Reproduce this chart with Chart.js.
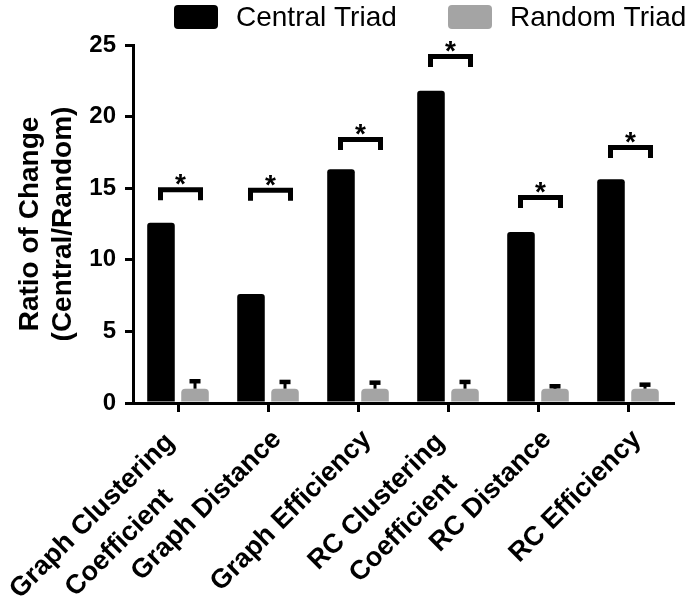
<!DOCTYPE html>
<html>
<head>
<meta charset="utf-8">
<script src="https://cdn.jsdelivr.net/npm/chart.js@4.4.1/dist/chart.umd.min.js"></script>
<style>
  html, body { margin: 0; padding: 0; background: #fff; }
</style>
</head>
<body>
<canvas id="chart" width="700" height="602"></canvas>
<script>
const categories = [['Graph Clustering', 'Coefficient'], 'Graph Distance', 'Graph Efficiency',
  ['RC Clustering', 'Coefficient'], 'RC Distance', 'RC Efficiency'];
const centralTriad = [12.59, 7.61, 16.32, 21.81, 11.94, 15.62];
const randomTriad = [1, 1, 1, 1, 1, 1];
const randomError = [0.52, 0.47, 0.42, 0.47, 0.17, 0.28];
const bracketLevels = [14.9, 14.85, 18.4, 24.2, 14.35, 17.85];
const yTicks = [0, 5, 10, 15, 20, 25];

const FONT = '"Liberation Sans", Arial, Helvetica, sans-serif';

// error bars on the random triad + significance brackets
const annotations = {
  id: 'annotations',
  afterDatasetsDraw(chart) {
    const { ctx, scales: { x, y } } = chart;
    const gray = chart.getDatasetMeta(1);
    ctx.save();
    ctx.strokeStyle = '#000';
    ctx.fillStyle = '#000';
    gray.data.forEach((bar, i) => {
      const top = y.getPixelForValue(randomTriad[i] + randomError[i]);
      const base = y.getPixelForValue(randomTriad[i]);
      ctx.lineWidth = 3;
      ctx.beginPath(); ctx.moveTo(bar.x, base); ctx.lineTo(bar.x, top); ctx.stroke();
      ctx.lineWidth = 4.5;
      ctx.beginPath(); ctx.moveTo(bar.x - 5.5, top); ctx.lineTo(bar.x + 5.5, top); ctx.stroke();
    });
    bracketLevels.forEach((lvl, i) => {
      const cx = x.getPixelForValue(i);
      const yb = y.getPixelForValue(lvl);
      ctx.lineWidth = 5;
      ctx.lineJoin = 'miter';
      ctx.beginPath();
      ctx.moveTo(cx - 17.5, yb + 10.5);
      ctx.lineTo(cx - 17.5, yb);
      ctx.lineTo(cx + 22.5, yb);
      ctx.lineTo(cx + 22.5, yb + 10.5);
      ctx.stroke();
      ctx.font = 'bold 28px ' + FONT;
      ctx.textAlign = 'center';
      ctx.textBaseline = 'alphabetic';
      ctx.fillText('*', cx + 2.5, yb + 3.5);
    });
    ctx.restore();
  }
};

// rotated category labels, lines centred on each other
const xLabels = {
  id: 'xLabels',
  afterDraw(chart) {
    const { ctx, scales: { x } } = chart;
    ctx.save();
    ctx.fillStyle = '#000';
    ctx.font = 'bold 27px ' + FONT;
    ctx.textAlign = 'center';
    ctx.textBaseline = 'middle';
    chart.data.labels.forEach((lab, i) => {
      const lines = Array.isArray(lab) ? lab : [lab];
      const n = lines.length;
      const maxW = Math.max(...lines.map(l => ctx.measureText(l).width));
      ctx.save();
      ctx.translate(x.getPixelForValue(i) + 9, x.top + 32);
      ctx.rotate(-Math.PI / 4);
      lines.forEach((l, k) => {
        ctx.fillText(l, -maxW / 2 - (n - 1) * 14, (k - (n - 1) * 0.25) * 38);
      });
      ctx.restore();
    });
    ctx.restore();
  }
};

// legend across the top
const topLegend = {
  id: 'topLegend',
  afterDraw(chart) {
    const { ctx } = chart;
    const boxX = [174, 448];
    ctx.save();
    ctx.font = '28px ' + FONT;
    ctx.textBaseline = 'middle';
    ctx.textAlign = 'left';
    chart.data.datasets.forEach((ds, i) => {
      ctx.fillStyle = ds.backgroundColor;
      ctx.beginPath();
      ctx.roundRect(boxX[i], 5, 44, 24, 4);
      ctx.fill();
      ctx.fillStyle = '#000';
      ctx.fillText(ds.label, boxX[i] + 62, 18);
    });
    ctx.restore();
  }
};

new Chart(document.getElementById('chart'), {
  type: 'bar',
  data: {
    labels: categories,
    datasets: [
      { label: 'Central Triad', data: centralTriad, backgroundColor: '#000000', borderRadius: 3 },
      { label: 'Random Triad', data: randomTriad, backgroundColor: '#a4a4a4', borderRadius: 4 }
    ]
  },
  options: {
    responsive: false,
    animation: false,
    layout: { padding: { top: 45, right: 27, left: 0, bottom: 0 } },
    datasets: { bar: { categoryPercentage: 0.756, barPercentage: 0.81 } },
    plugins: { legend: { display: false }, tooltip: { enabled: false } },
    scales: {
      x: {
        grid: { offset: false, drawOnChartArea: false, tickLength: 9, lineWidth: 3, color: '#000' },
        border: { color: '#000', width: 3 },
        ticks: { display: false },
        afterFit: s => { s.height = 199; }
      },
      y: {
        min: 0, max: 25,
        afterBuildTicks: s => { s.ticks = yTicks.map(v => ({ value: v })); },
        grid: { drawOnChartArea: false, tickLength: 8, lineWidth: 3, color: '#000' },
        border: { color: '#000', width: 3 },
        ticks: { color: '#000', padding: 9, font: { family: FONT, size: 24, weight: 'bold' } },
        title: {
          display: true,
          text: ['Ratio of Change', '(Central/Random)'],
          color: '#000',
          padding: { top: 13, bottom: 0 },
          font: { family: FONT, size: 28, weight: 'bold' }
        },
        afterFit: s => { s.width = 133; }
      }
    }
  },
  plugins: [annotations, xLabels, topLegend]
});
</script>
</body>
</html>
